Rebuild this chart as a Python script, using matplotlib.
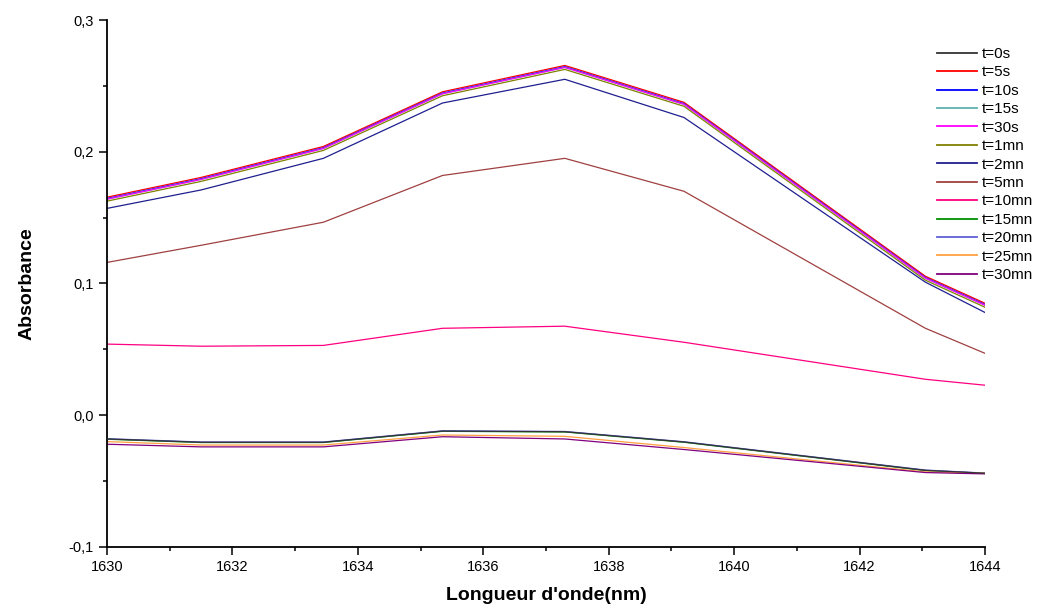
import numpy as np
import matplotlib
matplotlib.use('Agg')
import matplotlib.pyplot as plt
from matplotlib.ticker import MultipleLocator, FuncFormatter

plt.rcParams['font.family'] = ['Liberation Sans', 'DejaVu Sans']

# wavelengths (nm)
wl = [1630.0, 1631.5, 1633.45, 1635.35, 1637.3, 1639.2, 1643.05, 1644.0]

labels = ['t=0s', 't=5s', 't=10s', 't=15s', 't=30s', 't=1mn', 't=2mn',
          't=5mn', 't=10mn', 't=15mn', 't=20mn', 't=25mn', 't=30mn']
colors = ['#333333', '#ff0000', '#0000ff', '#5fb0b0', '#ff00ff', '#808000',
          '#1f1f90', '#a04040', '#ff0080', '#009000', '#6060d8', '#ffa040',
          '#800080']

t0s = [-0.0180, -0.0205, -0.0205, -0.0120, -0.0125, -0.0203, -0.0418, -0.0440]
t5s = [0.1655, 0.1805, 0.2040, 0.2455, 0.2655, 0.2375, 0.1055, 0.0850]
t10s = [0.1645, 0.1795, 0.2030, 0.2445, 0.2645, 0.2365, 0.1045, 0.0840]
t15s = [0.1640, 0.1790, 0.2025, 0.2440, 0.2640, 0.2360, 0.1040, 0.0835]
t30s = [0.1640, 0.1790, 0.2025, 0.2440, 0.2640, 0.2360, 0.1040, 0.0835]
t1mn = [0.1625, 0.1775, 0.2010, 0.2425, 0.2625, 0.2345, 0.1025, 0.0820]
t2mn = [0.1570, 0.1710, 0.1950, 0.2370, 0.2550, 0.2260, 0.1010, 0.0780]
t5mn = [0.1160, 0.1290, 0.1465, 0.1820, 0.1950, 0.1700, 0.0660, 0.0470]
t10mn = [0.0540, 0.0524, 0.0530, 0.0660, 0.0676, 0.0554, 0.0273, 0.0228]
t15mn = [-0.0182, -0.0207, -0.0207, -0.0122, -0.0127, -0.0205, -0.0420, -0.0441]
t20mn = [-0.0178, -0.0203, -0.0203, -0.0118, -0.0123, -0.0201, -0.0416, -0.0439]
t25mn = [-0.0200, -0.0226, -0.0226, -0.0150, -0.0160, -0.0245, -0.0430, -0.0440]
t30mn = [-0.0220, -0.0240, -0.0240, -0.0163, -0.0180, -0.0260, -0.0435, -0.0445]

series = [t0s, t5s, t10s, t15s, t30s, t1mn, t2mn, t5mn, t10mn,
          t15mn, t20mn, t25mn, t30mn]

fig = plt.figure(figsize=(10.41, 6.05), dpi=100)
ax = fig.add_axes([107 / 1041, 1 - 547 / 605, (985 - 107) / 1041, (547 - 20) / 605])

handles = []
for i, (y, c, lab) in enumerate(zip(series, colors, labels)):
    # t=0s sits on top of the bottom cluster in the original
    z = 3 if i == 0 else 2
    h, = ax.plot(wl, y, color=c, lw=0.9, label=lab, zorder=z)
    handles.append(h)

ax.set_xlim(1630, 1644)
ax.set_ylim(-0.1, 0.3)
ax.xaxis.set_major_locator(MultipleLocator(2))
ax.xaxis.set_minor_locator(MultipleLocator(1))
ax.yaxis.set_major_locator(MultipleLocator(0.1))
ax.yaxis.set_minor_locator(MultipleLocator(0.05))
ax.yaxis.set_major_formatter(FuncFormatter(lambda v, p: ('%.1f' % v).replace('.', ',')))

for s in ['top', 'right']:
    ax.spines[s].set_visible(False)
for s in ['left', 'bottom']:
    ax.spines[s].set_linewidth(1.3)

ax.tick_params(which='major', direction='out', length=6, width=1.1, labelsize=10.5)
ax.tick_params(which='minor', direction='out', length=3, width=1.1)

ax.set_xlabel("Longueur d'onde(nm)", fontsize=14, fontweight='bold', labelpad=9)
ax.set_ylabel('Absorbance', fontsize=14, fontweight='bold', labelpad=24)

leg = fig.legend(handles=handles, loc='upper left', bbox_to_anchor=(937 / 1041, 1 - 47 / 605),
                 frameon=False, fontsize=11, handlelength=2.6, handletextpad=0.35,
                 labelspacing=0.29, borderpad=0, borderaxespad=0)
for ln in leg.get_lines():
    ln.set_linewidth(1.3)

fig.savefig('out.png', dpi=100)
